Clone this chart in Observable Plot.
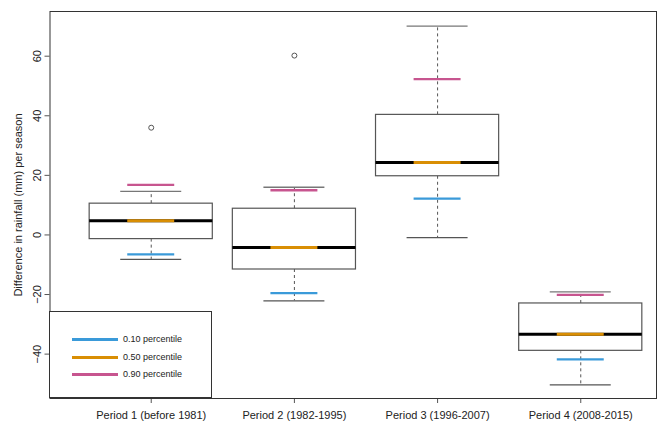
<!DOCTYPE html>
<html><head><meta charset="utf-8">
<script src="https://cdn.jsdelivr.net/npm/d3@7"></script>
<script src="https://cdn.jsdelivr.net/npm/@observablehq/plot@0.6"></script>
<style>
body{margin:0;background:#fff;font-family:"Liberation Sans",Arial,sans-serif;}
#wrap{position:relative;width:657px;height:423px;}
#legend{position:absolute;left:49px;top:311px;width:163px;height:87px;border:1px solid #333;background:#fff;box-sizing:border-box;}
.row{position:absolute;left:0;height:12px;width:160px;}
.row span.ln{position:absolute;left:22px;width:46px;height:2.5px;top:5px;}
.row span.tx{position:absolute;left:73px;top:0;font-size:9px;line-height:12px;color:#222;}
</style></head>
<body><div id="wrap"></div>
<script>
const categories = ["Period 1 (before 1981)", "Period 2 (1982-1995)", "Period 3 (1996-2007)", "Period 4 (2008-2015)"];
const whiskerLow  = [-8.2, -22.1, -0.9, -50.3];
const q1          = [-1.4, -11.6, 19.7, -38.9];
const median      = [4.8, -4.2, 24.3, -33.3];
const q3          = [10.5, 8.8, 40.3, -23.0];
const whiskerHigh = [14.6, 16.0, 70.1, -19.1];
const p10         = [-6.5, -19.5, 12.2, -41.8];
const p90         = [16.8, 15.0, 52.3, -20.1];
const outlierPeriod = [1, 2];
const outlierValue  = [36.0, 60.2];
const yTicks = [-40, -20, 0, 20, 40, 60];
const legendLabels = ["0.10 percentile", "0.50 percentile", "0.90 percentile"];
const yLabel = "Difference in rainfall (mm) per season";

const cBlue = "#3a9ad9", cOrange = "#d98e04", cPink = "#c7558f";
const legendColors = [cBlue, cOrange, cPink];

const idx = categories.map((_, k) => k + 1);
const rows = idx.map((i, k) => ({i, lo: whiskerLow[k], q1: q1[k], med: median[k], q3: q3[k], hi: whiskerHigh[k], p10: p10[k], p90: p90[k]}));
const outliers = outlierPeriod.map((i, k) => ({i, v: outlierValue[k]}));
const boxHalf = 0.43, capHalf = 0.213, pctHalf = 0.164;

const chart = Plot.plot({
  width: 657, height: 423,
  marginLeft: 49.5, marginRight: 1, marginTop: 11, marginBottom: 25,
  style: {fontFamily: "'Liberation Sans', Arial, sans-serif", fontSize: "11px", color: "#222", background: "#fff"},
  x: {domain: [0.293, 4.529], axis: null},
  y: {domain: [-54.9, 75], axis: null},
  marks: [
    Plot.axisX({ticks: idx, tickFormat: i => categories[i - 1], tickSize: 5, tickPadding: 8, label: null, stroke: "#555"}),
    Plot.axisY({ticks: yTicks, tickSize: 5, tickRotate: -90, label: yLabel, labelAnchor: "center", labelArrow: "none", labelOffset: 36, stroke: "#555"}),
    Plot.ruleX(rows, {x: "i", y1: "q3", y2: "hi", stroke: "#555", strokeDasharray: "3,3"}),
    Plot.ruleX(rows, {x: "i", y1: "q1", y2: "lo", stroke: "#555", strokeDasharray: "3,3"}),
    Plot.ruleY(rows, {y: "hi", x1: d => d.i - capHalf, x2: d => d.i + capHalf, stroke: "#777", strokeWidth: 1.3}),
    Plot.ruleY(rows, {y: "lo", x1: d => d.i - capHalf, x2: d => d.i + capHalf, stroke: "#555", strokeWidth: 1.3}),
    Plot.rect(rows, {x1: d => d.i - boxHalf, x2: d => d.i + boxHalf, y1: "q1", y2: "q3", fill: "#fff", stroke: "#555", strokeWidth: 1.2}),
    Plot.ruleY(rows, {y: "med", x1: d => d.i - boxHalf, x2: d => d.i + boxHalf, stroke: "#000", strokeWidth: 3}),
    Plot.ruleY(rows, {y: "med", x1: d => d.i - pctHalf, x2: d => d.i + pctHalf, stroke: cOrange, strokeWidth: 3}),
    Plot.ruleY(rows, {y: "p10", x1: d => d.i - pctHalf, x2: d => d.i + pctHalf, stroke: cBlue, strokeWidth: 2.3}),
    Plot.ruleY(rows, {y: "p90", x1: d => d.i - pctHalf, x2: d => d.i + pctHalf, stroke: cPink, strokeWidth: 2.3}),
    Plot.dot(outliers, {x: "i", y: "v", r: 2.5, stroke: "#555", fill: "none", strokeWidth: 1}),
    Plot.frame({stroke: "#333"})
  ]
});
const wrap = document.getElementById("wrap");
wrap.appendChild(chart);
const leg = document.createElement("div");
leg.id = "legend";
const rowTops = [21, 39, 56];
legendLabels.forEach((t, k) => {
  const r = document.createElement("div");
  r.className = "row";
  r.style.top = rowTops[k] + "px";
  const ln = document.createElement("span"); ln.className = "ln"; ln.style.background = legendColors[k];
  const tx = document.createElement("span"); tx.className = "tx"; tx.textContent = t;
  r.appendChild(ln); r.appendChild(tx); leg.appendChild(r);
});
wrap.appendChild(leg);
</script></body></html>
